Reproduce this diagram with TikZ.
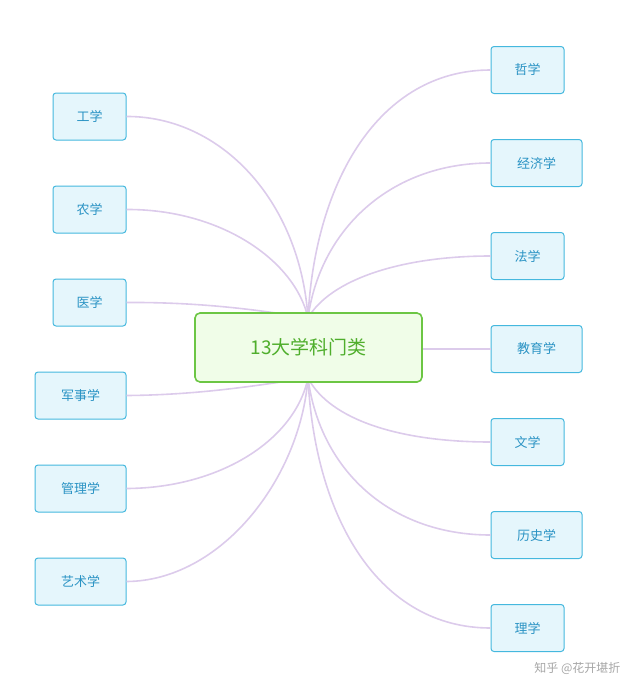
\documentclass[tikz,border=0pt]{standalone}
\usepackage{fontspec}
\setmainfont{Noto Sans CJK SC}
\definecolor{lf}{HTML}{E5F6FC}
\definecolor{lb}{HTML}{45B8DE}
\definecolor{lt}{HTML}{2A93C4}
\definecolor{cf}{HTML}{F0FDE8}
\definecolor{cb}{HTML}{6CC644}
\definecolor{ct}{HTML}{4FAE2C}
\definecolor{ln}{HTML}{DCCBEB}
\begin{document}
\begin{tikzpicture}[x=1pt,y=-1pt,
  leaf/.style={draw=lb,fill=lf,rounded corners=3pt,line width=1pt,text=lt,font=\fontsize{13}{15}\selectfont,minimum height=47pt,inner sep=0pt},
  w2/.style={leaf,minimum width=73pt},
  w3/.style={leaf,minimum width=91pt},
  link/.style={draw=ln,line width=1.6pt}]
\useasboundingbox (0,0) rectangle (640,696);
\coordinate (T) at (308,318);
\coordinate (B) at (308,378);
% left
\node[w2] (n1) at (89.5,116.5) {工学};
\node[w2] (n2) at (89.5,209.5) {农学};
\node[w2] (n3) at (89.5,302.5) {医学};
\node[w3] (n4) at (80.5,395.5) {军事学};
\node[w3] (n5) at (80.5,488.5) {管理学};
\node[w3] (n6) at (80.5,581.5) {艺术学};
% right
\node[w2] (m1) at (527.5,70) {哲学};
\node[w3] (m2) at (536.5,163) {经济学};
\node[w2] (m3) at (527.5,256) {法学};
\node[w3] (m4) at (536.5,349) {教育学};
\node[w2] (m5) at (527.5,442) {文学};
\node[w3] (m6) at (536.5,535) {历史学};
\node[w2] (m7) at (527.5,628) {理学};
\begin{scope}[on background layer/.try]
\draw[link] (n1.east) .. controls (220,116) and (300,200) .. (T);
\draw[link] (n2.east) .. controls (220,209) and (295,260) .. (T);
\draw[link] (n3.east) .. controls (200,302) and (260,310) .. (T);
\draw[link] (n4.east) .. controls (200,395) and (260,385) .. (B);
\draw[link] (n5.east) .. controls (220,488) and (295,440) .. (B);
\draw[link] (n6.east) .. controls (220,581) and (300,480) .. (B);
\draw[link] (m1.west) .. controls (380,70) and (315,180) .. (T);
\draw[link] (m2.west) .. controls (390,163) and (320,230) .. (T);
\draw[link] (m3.west) .. controls (400,256) and (330,280) .. (T);
\draw[link] (m4.west) -- (400,349);
\draw[link] (m5.west) .. controls (400,442) and (330,420) .. (B);
\draw[link] (m6.west) .. controls (390,535) and (320,470) .. (B);
\draw[link] (m7.west) .. controls (380,628) and (315,520) .. (B);
\end{scope}
\node[draw=cb,fill=cf,rounded corners=5pt,line width=1.6pt,text=ct,minimum width=227pt,minimum height=69pt,font=\fontsize{19}{22}\selectfont] (c) at (308.5,347.5) {13大学科门类};
\node[text=gray!70,font=\fontsize{12}{14}\selectfont,anchor=east] (wm) at (624,668) {知乎 @花开堪折};
\end{tikzpicture}
\end{document}
